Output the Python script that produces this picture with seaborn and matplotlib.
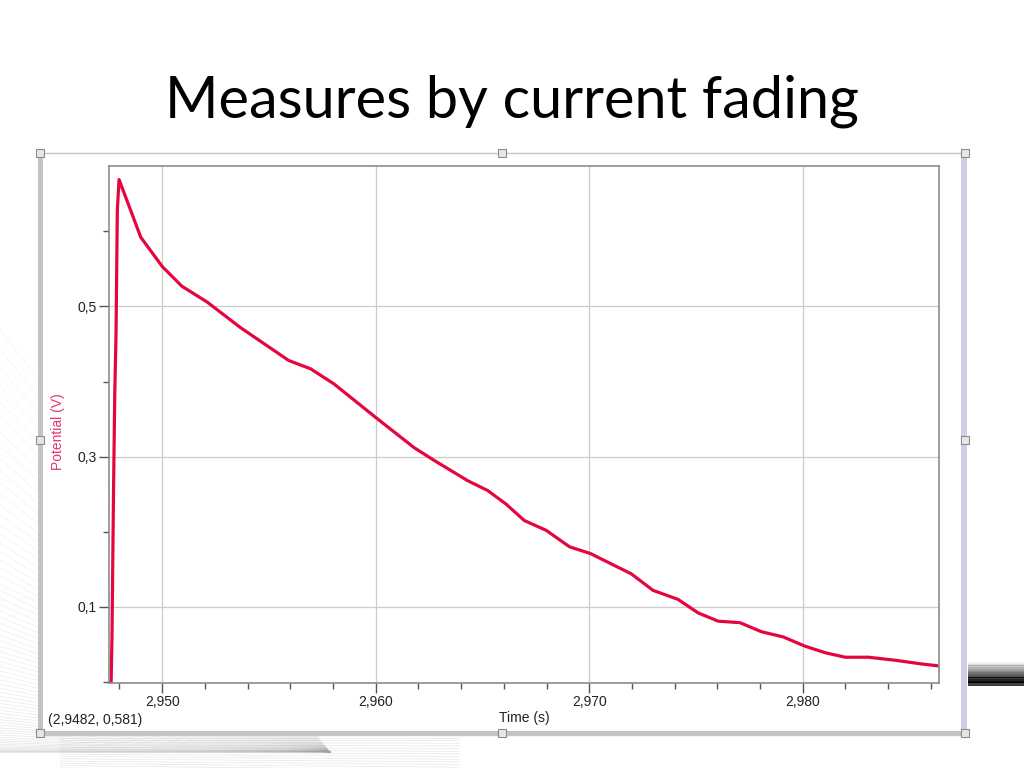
import numpy as np
import pandas as pd
import matplotlib
matplotlib.use("Agg")
import matplotlib.pyplot as plt
import seaborn as sns
from matplotlib.patches import Rectangle
from matplotlib.ticker import FixedLocator, MultipleLocator, FixedFormatter

# ---- data ----
time_s = [2.94761, 2.94765, 2.94772, 2.94778, 2.94784, 2.94787, 2.94790, 2.94798,
          2.94900, 2.95001, 2.95092, 2.95210, 2.95366, 2.95593, 2.95695, 2.95804,
          2.96001, 2.96180, 2.96274, 2.96431, 2.96524, 2.96610, 2.96696, 2.96798,
          2.96908, 2.97006, 2.97119, 2.97197, 2.97299, 2.97416, 2.97510, 2.97604,
          2.97706, 2.97806, 2.97909, 2.98008, 2.98105, 2.98199, 2.98308, 2.98433,
          2.98558, 2.98650]
potential_v = [0.000, 0.060, 0.250, 0.384, 0.465, 0.548, 0.628, 0.669,
               0.592, 0.553, 0.527, 0.506, 0.472, 0.428, 0.417, 0.397,
               0.352, 0.312, 0.295, 0.268, 0.255, 0.237, 0.215, 0.202,
               0.180, 0.171, 0.155, 0.144, 0.122, 0.110, 0.092, 0.081,
               0.079, 0.067, 0.060, 0.048, 0.039, 0.033, 0.033, 0.029,
               0.024, 0.021]
x_ticks = [2.950, 2.960, 2.970, 2.980]
x_tick_labels = ["2,950", "2,960", "2,970", "2,980"]
y_ticks = [0.1, 0.3, 0.5]
y_tick_labels = ["0,1", "0,3", "0,5"]
title = "Measures by current fading"
x_label = "Time (s)"
y_label = "Potential (V)"
cursor_text = "(2,9482, 0,581)"

df = pd.DataFrame({"Time": time_s, "Potential": potential_v})

sns.set_style("white")
plt.rcParams["font.family"] = ["Liberation Sans", "DejaVu Sans"]

W, H = 1024, 768
fig = plt.figure(figsize=(W / 100, H / 100), dpi=100)
fig.patch.set_facecolor("white")

def fx(px):
    return px / W

def fy(py):
    return 1 - py / H

# ---- background decoration (pixel coords axes) ----
bg = fig.add_axes([0, 0, 1, 1], zorder=0)
bg.set_xlim(0, W)
bg.set_ylim(H, 0)
bg.axis("off")

# fan of thin grey lines at bottom-left
fx0, fy0 = 330, 752
for t in np.linspace(0, 1, 70):
    ang = np.deg2rad(180 - 52 * t ** 1.8)
    x1 = fx0 + 900 * np.cos(ang)
    y1 = fy0 - 900 * np.sin(ang)
    bg.plot([fx0, x1], [fy0, y1], color="#a0a0a0", lw=0.5, alpha=0.28 * (1 - 0.6 * t))
for yy in np.linspace(738, 768, 14):
    bg.plot([60, 460], [yy, yy + (yy - 738) * 0.15], color="#a0a0a0", lw=0.5, alpha=0.25)

# dark streak at right
for i, a in enumerate(np.linspace(0.05, 0.95, 12)):
    bg.add_patch(Rectangle((968, 662 + i * 1.7), 60, 1.9, color="black", alpha=a, lw=0))
bg.add_patch(Rectangle((968, 682), 60, 4, color="black", alpha=0.75, lw=0))

# ---- chart panel ----
bg.add_patch(Rectangle((40, 153), 925, 582, facecolor="white", edgecolor="#c6c6c6", lw=1.0, zorder=2))
bg.add_patch(Rectangle((38, 153), 5, 582, facecolor="#c4c4c4", lw=0, zorder=3))
bg.add_patch(Rectangle((40, 731), 925, 5, facecolor="#c4c4c4", lw=0, zorder=3))
bg.add_patch(Rectangle((961, 153), 6, 582, facecolor="#cfcfe4", lw=0, zorder=3))
for (hx, hy) in [(40, 153), (502, 153), (965, 153), (40, 440), (965, 440),
                 (40, 733), (502, 733), (965, 733)]:
    bg.add_patch(Rectangle((hx - 4, hy - 4), 8, 8, facecolor="#e6e6e6",
                           edgecolor="#8c8c8c", lw=0.8, zorder=4))

# ---- title ----
fig.text(0.5, fy(118), title, ha="center", va="baseline",
         fontsize=41.5, family=["Lato", "DejaVu Sans"], color="black")

# ---- main axes ----
ax = fig.add_axes([fx(109), fy(683), fx(939) - fx(109), fy(166) - fy(683)], zorder=5)
sns.lineplot(data=df, x="Time", y="Potential", ax=ax, sort=False, estimator=None,
             color="#e6063f", linewidth=2.3)

ax.set_xlim(2.94751, 2.98638)
ax.set_ylim(-0.0013, 0.687)
ax.xaxis.set_major_locator(FixedLocator(x_ticks))
ax.xaxis.set_major_formatter(FixedFormatter(x_tick_labels))
ax.xaxis.set_minor_locator(MultipleLocator(0.002))
ax.yaxis.set_major_locator(FixedLocator(y_ticks))
ax.yaxis.set_major_formatter(FixedFormatter(y_tick_labels))
ax.yaxis.set_minor_locator(MultipleLocator(0.1))

ax.grid(True, which="major", color="#cccccc", lw=0.9)
ax.tick_params(which="major", direction="out", length=7, width=1.0, color="#555555",
               labelsize=10, labelcolor="#222222", pad=2,
               bottom=True, left=True)
ax.tick_params(which="minor", direction="out", length=4, width=1.0, color="#555555",
               bottom=True, left=True)
for side, sp in ax.spines.items():
    sp.set_color("#8c8c8c")
    sp.set_linewidth(1.2)
ax.set_xlabel("")
ax.set_ylabel("")

fig.text(fx(524), fy(718), x_label, ha="center", va="center", fontsize=10, color="#222222")
fig.text(fx(58), fy(432), y_label, ha="center", va="center", rotation=90,
         fontsize=10, color="#e8336a")
fig.text(fx(48), fy(720), cursor_text, ha="left", va="center", fontsize=10, color="#222222")

fig.savefig("out.png", dpi=100)
